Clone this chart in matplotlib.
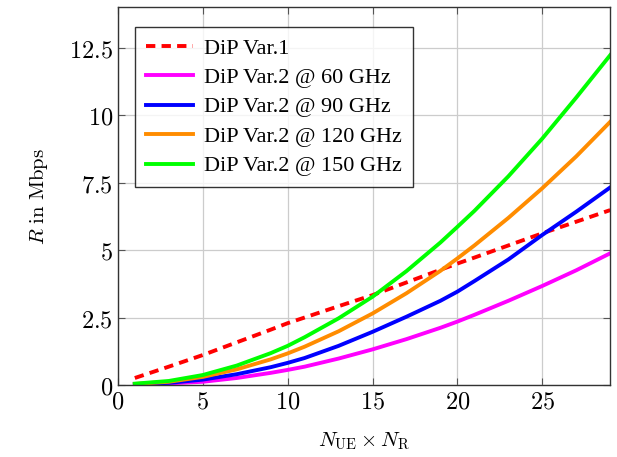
import matplotlib
matplotlib.use("Agg")
import matplotlib.pyplot as plt
from matplotlib.ticker import FuncFormatter

plt.rcParams['mathtext.fontset'] = 'cm'

# valeurs
x = [1, 3, 5, 7, 9, 10, 11, 13, 15, 17, 19, 20, 21, 23, 25, 27, 29]
var1 = [0.26, 0.68, 1.11, 1.58, 2.05, 2.29, 2.50, 2.92, 3.33, 3.80, 4.27, 4.50, 4.72, 5.17, 5.62, 6.05, 6.48]
var2_60 = [0.02, 0.06, 0.12, 0.26, 0.45, 0.56, 0.68, 0.98, 1.32, 1.70, 2.12, 2.35, 2.60, 3.12, 3.67, 4.25, 4.88]
var2_90 = [0.03, 0.08, 0.20, 0.40, 0.66, 0.82, 1.00, 1.45, 1.97, 2.53, 3.12, 3.46, 3.85, 4.65, 5.56, 6.42, 7.32]
var2_120 = [0.04, 0.12, 0.30, 0.58, 0.95, 1.17, 1.42, 1.99, 2.65, 3.40, 4.23, 4.69, 5.17, 6.19, 7.29, 8.47, 9.75]
var2_150 = [0.05, 0.15, 0.37, 0.72, 1.18, 1.45, 1.77, 2.47, 3.27, 4.22, 5.28, 5.86, 6.45, 7.73, 9.13, 10.65, 12.22]

labels = ["DiP Var.1", "DiP Var.2 @ 60 GHz", "DiP Var.2 @ 90 GHz",
          "DiP Var.2 @ 120 GHz", "DiP Var.2 @ 150 GHz"]
xticks = [0, 5, 10, 15, 20, 25]
yticks = [0, 2.5, 5, 7.5, 10, 12.5]

fig = plt.figure(figsize=(6.17, 4.57), dpi=100)
ax = fig.add_axes([0.191, 0.1575, 0.798, 0.827])

lw = 2.8
ax.plot(x, var1, color='red', lw=lw, dashes=(2.4, 1.6), label=labels[0])
ax.plot(x, var2_60, color='magenta', lw=lw, label=labels[1])
ax.plot(x, var2_90, color='blue', lw=lw, label=labels[2])
ax.plot(x, var2_120, color='#ff8c00', lw=lw, label=labels[3])
ax.plot(x, var2_150, color='#00ff00', lw=lw, label=labels[4])

ax.set_xlim(0, 29)
ax.set_ylim(0, 14)
ax.set_xticks(xticks)
ax.set_yticks(yticks)
fmt = FuncFormatter(lambda v, p: "$%g$" % v)
ax.xaxis.set_major_formatter(fmt)
ax.yaxis.set_major_formatter(fmt)
ax.tick_params(direction='in', top=True, right=True, labelsize=17.5,
               color='#555555', length=5)
ax.grid(True, color='#cccccc', lw=0.9)
for s in ax.spines.values():
    s.set_color('#333333')
    s.set_linewidth(1.0)

ax.set_xlabel(r'$N_{\mathrm{UE}} \times N_{\mathrm{R}}$', fontsize=15, labelpad=12)
ax.set_ylabel(r'$R\ \mathrm{in\ Mbps}$', fontsize=15, labelpad=14)

leg = ax.legend(loc='upper left', bbox_to_anchor=(0.012, 0.977),
                prop={'family': 'Liberation Serif', 'size': 16},
                frameon=True, fancybox=False, edgecolor='black',
                handlelength=2.1, handletextpad=0.5, borderpad=0.5,
                labelspacing=0.4)
leg.get_frame().set_linewidth(1.0)

fig.savefig("out.png", dpi=100)
